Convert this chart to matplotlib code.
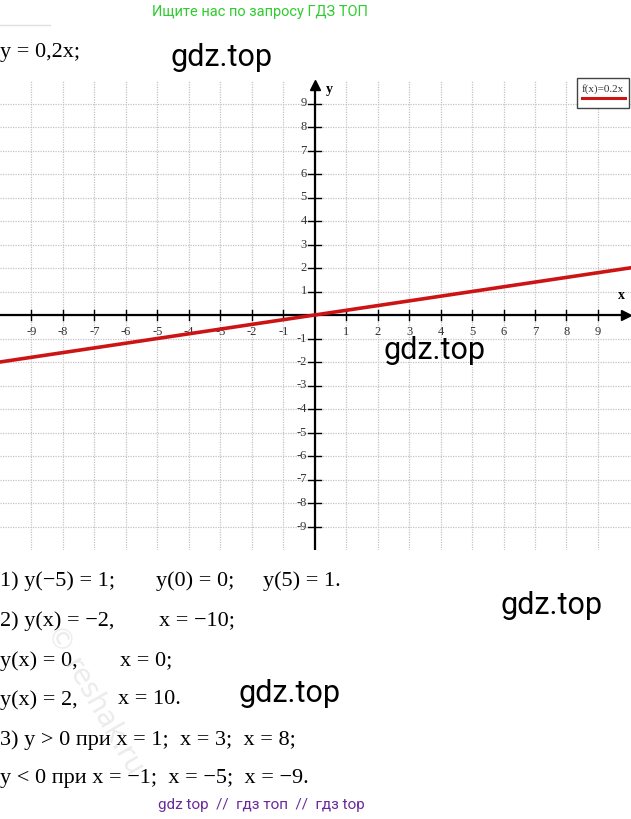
import matplotlib
matplotlib.use("Agg")
from matplotlib import pyplot as plt
from matplotlib.lines import Line2D

# data
line_x = [-10, 10]
line_y = [-2, 2]
x_ticks = [-9, -8, -7, -6, -5, -4, -3, -2, -1, 1, 2, 3, 4, 5, 6, 7, 8, 9]
y_ticks = [-9, -8, -7, -6, -5, -4, -3, -2, -1, 1, 2, 3, 4, 5, 6, 7, 8, 9]
grid_vals = list(range(-9, 10))
legend_label = "f(x)=0.2x"

# solution lines: (pixel x, pixel y, text)
answer_parts = [
    (0, 581, "1) y(−5) = 1;"), (156, 581, "y(0) = 0;"), (263, 581, "y(5) = 1."),
    (0, 621, "2) y(x) = −2,"), (159, 621, "x = −10;"),
    (0, 661, "y(x) = 0,"), (120, 661, "x = 0;"),
    (0, 700, "y(x) = 2,"), (118, 700, "x = 10."),
    (0, 740, "3) y > 0 при x = 1;  x = 3;  x = 8;"),
    (0, 779, "y < 0 при x = −1;  x = −5;  x = −9."),
]
watermarks = [(221, 58), (435, 350), (552, 605), (290, 694)]

W, H = 631, 819
fig = plt.figure(figsize=(W / 100, H / 100), dpi=100)


def fx(x):
    return x / W


def fy(y):
    return 1 - y / H


serif = "Liberation Serif"

ax = fig.add_axes([0, fy(550), 1, fy(80) - fy(550)])
ax.set_xlim(-10.0, 10.05)
ax.set_ylim(-10, 10)
ax.axis("off")

for v in grid_vals:
    ax.axvline(v, color="#c4c4c4", lw=0.9, ls=(0, (1, 1)), zorder=1)
    ax.axhline(v, color="#c4c4c4", lw=0.9, ls=(0, (1, 1)), zorder=1)

# axes with arrows
ax.plot([-10, 9.85], [0, 0], color="black", lw=1.6, zorder=3)
ax.plot([0, 0], [-10, 9.75], color="black", lw=1.6, zorder=3)
ax.plot([9.9], [0], marker=">", color="black", ms=7, zorder=4, clip_on=False)
ax.plot([0], [9.8], marker="^", color="black", ms=7, zorder=4, clip_on=False)

for t in x_ticks:
    ax.plot([t, t], [-0.22, 0.22], color="black", lw=1.0, zorder=3)
    ax.text(t, -0.45, str(t), ha="center", va="top", fontsize=9,
            family=serif, color="#333333")
for t in y_ticks:
    ax.plot([-0.2, 0.2], [t, t], color="black", lw=1.0, zorder=3)
    ax.text(-0.25, t, str(t), ha="right", va="center", fontsize=9,
            family=serif, color="#333333")

ax.text(0.35, 9.6, "y", fontsize=10, family=serif, weight="bold", ha="left", va="center")
ax.text(9.75, 0.55, "x", fontsize=10, family=serif, weight="bold", ha="center", va="bottom")

ax.plot(line_x, line_y, color="#cc1414", lw=2.6, zorder=5)

# legend box
fig.add_artist(plt.Rectangle((fx(577), fy(108)), fx(52), fy(78) - fy(108),
                             transform=fig.transFigure, fill=True, facecolor="white",
                             edgecolor="#444444", lw=1.0, zorder=6))
fig.text(fx(603), fy(89), legend_label, ha="center", va="center", fontsize=8,
         family=serif, color="#333333", zorder=7)
fig.add_artist(Line2D([fx(582), fx(625)], [fy(98), fy(98)], color="#cc1414",
                      lw=2.2, transform=fig.transFigure, zorder=7))

# header and footer
fig.text(fx(260), fy(12), "Ищите нас по запросу ГДЗ ТОП", ha="center", va="center",
         fontsize=10.5, family="Roboto", color="#2ecc2e")
fig.add_artist(Line2D([0, fx(50)], [fy(25), fy(25)], color="#e0e0e0", lw=1.0,
                      transform=fig.transFigure))
fig.text(0, fy(53), "y = 0,2x;", ha="left", va="center", fontsize=16, family=serif)

for x, y in watermarks:
    fig.text(fx(x), fy(y), "gdz.top", ha="center", va="center", fontsize=22,
             family="Roboto", color="black", zorder=8)

for x, y, s in answer_parts:
    fig.text(fx(x), fy(y), s, ha="left", va="center", fontsize=16, family=serif)

fig.text(fx(95), fy(700), "© reshak.ru", rotation=-60, ha="center", va="center",
         fontsize=20, family="DejaVu Sans", color="#d8d8d8", alpha=0.5)

fig.text(fx(261), fy(805), "gdz top  //  гдз топ  //  гдз top", ha="center", va="center",
         fontsize=11, family="Roboto", color="#6a2a9a")

fig.savefig("out.png", dpi=100)
